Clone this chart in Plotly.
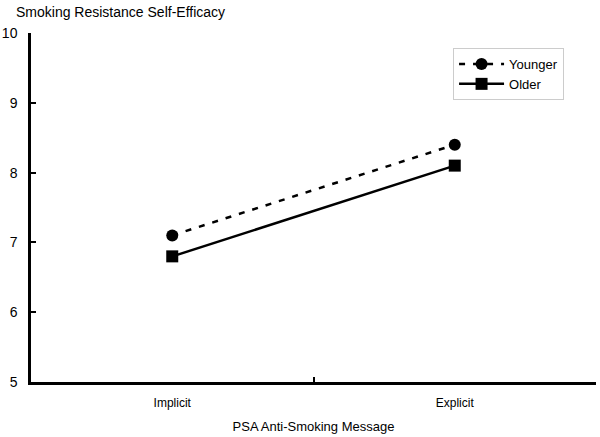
import plotly.graph_objects as go

categories = ["Implicit", "Explicit"]
younger = [7.1, 8.4]
older = [6.8, 8.1]
y_ticks = [5, 6, 7, 8, 9, 10]

xpos = [i + 0.5 for i in range(len(categories))]

fig = go.Figure()
fig.add_trace(go.Scatter(x=xpos, y=younger, name="Younger", mode="lines+markers",
                         line=dict(color="black", width=2.5, dash="6px,8px"),
                         marker=dict(symbol="circle", size=12, color="black")))
fig.add_trace(go.Scatter(x=xpos, y=older, name="Older", mode="lines+markers",
                         line=dict(color="black", width=2.5),
                         marker=dict(symbol="square", size=12, color="black")))
# invisible trace on overlay axis for boundary ticks
fig.add_trace(go.Scatter(x=[0, len(categories)], y=[5, 5], xaxis="x2", mode="markers",
                         marker=dict(opacity=0), showlegend=False, hoverinfo="skip"))

fig.update_layout(
    width=600, height=437,
    margin=dict(l=31, r=4, t=33, b=55, autoexpand=False),
    plot_bgcolor="white", paper_bgcolor="white",
    font=dict(family="Liberation Sans, Arial, sans-serif", color="black", size=12),
    xaxis=dict(range=[0, len(categories)], tickvals=xpos, ticktext=categories,
               showline=True, linecolor="black", linewidth=2.5, ticks="", automargin=False,
               showgrid=False, zeroline=False, tickfont=dict(size=12), ticklabelstandoff=8,
               title=dict(text="PSA Anti-Smoking Message", font=dict(size=13), standoff=13)),
    xaxis2=dict(range=[0, len(categories)], overlaying="x", tickvals=list(range(1, len(categories) + 1)),
                showticklabels=False, ticks="inside", ticklen=5, tickwidth=2, tickcolor="black",
                showgrid=False, zeroline=False, showline=False, side="bottom", automargin=False),
    yaxis=dict(range=[5, 10], tickvals=y_ticks, showline=True, linecolor="black", linewidth=2.5,
               ticks="inside", ticklen=5, tickwidth=2, tickcolor="black", automargin=False,
               showgrid=False, zeroline=False, tickfont=dict(size=14), ticklabelstandoff=8),
    legend=dict(x=0.747, y=0.957, xanchor="left", yanchor="top",
                bordercolor="#cccccc", borderwidth=1, font=dict(size=13),
                bgcolor="white", tracegroupgap=0, itemwidth=45),
    showlegend=True,
    annotations=[dict(text="Smoking Resistance Self-Efficacy", x=-17/565, y=1 + 21/349,
                      xref="paper", yref="paper",
                      showarrow=False, font=dict(size=14), xanchor="left", yanchor="middle")],
)

fig.write_html("out.html", config={"displayModeBar": False},
               post_script="document.body.style.margin='0';")
